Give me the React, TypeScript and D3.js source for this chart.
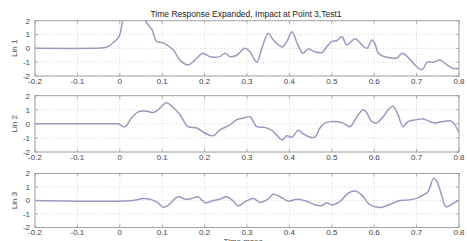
import React from "react";
import * as d3 from "d3";

const title = "Time Response Expanded, Impact at Point 3,Test1";
const xLabel = "Time msec";
const xTicks = [-0.2, -0.1, 0, 0.1, 0.2, 0.3, 0.4, 0.5, 0.6, 0.7, 0.8];
const yTicks = [2, 1, 0, -1, -2];
const channelNames = ["Lin 1", "Lin 2", "Lin 3"];

const lin1Time = [-0.2, -0.06, -0.047, -0.03, -0.016, -0.002, 0.007, 0.02, 0.035, 0.05, 0.06, 0.076, 0.087, 0.102, 0.126, 0.142, 0.161, 0.177, 0.196, 0.213, 0.236, 0.248, 0.26, 0.276, 0.295, 0.307, 0.323, 0.335, 0.35, 0.362, 0.383, 0.394, 0.406, 0.418, 0.432, 0.444, 0.46, 0.477, 0.489, 0.5, 0.512, 0.524, 0.535, 0.555, 0.571, 0.583, 0.595, 0.602, 0.61, 0.63, 0.653, 0.666, 0.68, 0.696, 0.713, 0.725, 0.74, 0.755, 0.772, 0.786, 0.8];
const lin1Value = [0, 0, 0.02, 0.1, 0.4, 0.85, 2.0, 3.2, 3.6, 3.0, 2.0, 1.35, 0.5, 0.4, -0.1, -0.85, -1.2, -0.85, -0.35, -0.6, -0.6, -0.35, -0.6, -0.5, 0, -0.25, -1.0, 0, 1.1, 0.6, 0.1, 0.5, 1.2, 0.4, -0.35, -0.05, -0.25, -0.3, 0.15, 0.5, 0.55, 0.85, 0.25, 0.7, 0.25, 0, 0.6, 0.3, -0.35, -0.65, -0.7, -0.35, -0.65, -1.2, -1.55, -1.0, -1.0, -0.85, -1.2, -1.45, -1.45];

const lin2Time = [-0.2, -0.02, -0.004, 0.012, 0.028, 0.043, 0.064, 0.079, 0.09, 0.11, 0.123, 0.142, 0.161, 0.182, 0.2, 0.22, 0.236, 0.26, 0.276, 0.29, 0.307, 0.323, 0.342, 0.358, 0.37, 0.383, 0.394, 0.406, 0.421, 0.432, 0.449, 0.46, 0.472, 0.484, 0.503, 0.526, 0.543, 0.559, 0.574, 0.582, 0.594, 0.606, 0.621, 0.633, 0.644, 0.656, 0.668, 0.68, 0.7, 0.715, 0.731, 0.743, 0.762, 0.783, 0.8];
const lin2Value = [0, 0, 0, -0.2, 0.43, 0.85, 0.9, 0.8, 1.0, 1.5, 1.25, 0.65, -0.2, -0.3, -0.65, -0.85, -0.43, -0.07, 0.3, 0.4, 0.5, -0.2, -0.25, -0.45, -0.8, -1.15, -0.85, -0.95, -0.45, -0.7, -0.95, -0.95, -0.3, 0.07, 0.17, 0.07, -0.2, 0.5, 1.0, 0.8, 0.17, 0.07, 0.5, 1.0, 1.25, 0.65, -0.2, 0.17, 0.3, 0.35, 0.17, 0.07, 0.17, 0.17, -0.65];

const lin3Time = [-0.2, 0.031, 0.055, 0.071, 0.087, 0.103, 0.115, 0.127, 0.138, 0.154, 0.17, 0.185, 0.201, 0.221, 0.236, 0.252, 0.268, 0.279, 0.295, 0.315, 0.331, 0.347, 0.362, 0.378, 0.397, 0.417, 0.441, 0.461, 0.476, 0.488, 0.5, 0.519, 0.538, 0.555, 0.571, 0.586, 0.602, 0.618, 0.637, 0.661, 0.68, 0.7, 0.715, 0.727, 0.74, 0.748, 0.76, 0.769, 0.783, 0.8];
const lin3Value = [0, 0, 0.15, 0.1, -0.1, -0.5, -0.33, 0.05, 0.28, 0.09, 0.15, 0.28, -0.16, 0, 0.1, 0.28, -0.05, -0.4, -0.1, 0.15, -0.14, 0.04, 0.46, 0.28, -0.05, 0.09, -0.05, -0.33, -0.38, -0.16, -0.33, -0.09, 0.53, 0.7, 0.4, -0.21, -0.46, -0.5, -0.28, 0, 0.04, 0.16, 0.4, 0.65, 1.64, 1.4, 0.28, -0.46, -0.28, 0.04];

const channels = [
  { name: channelNames[0], time: lin1Time, value: lin1Value, top: 20.7, bottom: 76 },
  { name: channelNames[1], time: lin2Time, value: lin2Value, top: 95.7, bottom: 152 },
  { name: channelNames[2], time: lin3Time, value: lin3Value, top: 173.5, bottom: 227.5 },
];

const W = 467;
const H = 241;
const left = 35;
const right = 459;
const font = "'Liberation Sans', Arial, sans-serif";

const Panel = ({ ch, idx }: any) => {
  const x = d3.scaleLinear().domain([-0.2, 0.8]).range([left, right]);
  const y = d3.scaleLinear().domain([-2, 2]).range([ch.bottom, ch.top]);
  const pts: [number, number][] = ch.time.map((t: number, i: number) => [t, ch.value[i]]);
  const line = d3
    .line<[number, number]>()
    .x((d) => x(d[0]))
    .y((d) => y(d[1]))
    .curve(d3.curveCatmullRom.alpha(0.5));
  const clipId = "clip" + idx;
  const mid = (ch.top + ch.bottom) / 2;
  return (
    <g>
      <defs>
        <clipPath id={clipId}>
          <rect x={left} y={ch.top} width={right - left} height={ch.bottom - ch.top} />
        </clipPath>
      </defs>
      {xTicks.map((t) => (
        <line key={"gx" + t} x1={x(t)} x2={x(t)} y1={ch.top} y2={ch.bottom}
          stroke="#c8c8c8" strokeWidth={0.7} strokeDasharray="1,2" />
      ))}
      {yTicks.map((v) => (
        <line key={"gy" + v} x1={left} x2={right} y1={y(v)} y2={y(v)}
          stroke="#c8c8c8" strokeWidth={0.7} strokeDasharray="1,2" />
      ))}
      <rect x={left} y={ch.top} width={right - left} height={ch.bottom - ch.top}
        fill="none" stroke="#9a9a9a" strokeWidth={0.9} />
      {xTicks.map((t) => (
        <g key={"tx" + t}>
          <line x1={x(t)} x2={x(t)} y1={ch.bottom} y2={ch.bottom - 3} stroke="#9a9a9a" strokeWidth={0.8} />
          <line x1={x(t)} x2={x(t)} y1={ch.top} y2={ch.top + 3} stroke="#9a9a9a" strokeWidth={0.8} />
          <text x={x(t)} y={ch.bottom + 7.5} textAnchor="middle" fontSize={8}
            fontFamily={font} fill="#444">{t}</text>
        </g>
      ))}
      {yTicks.map((v) => (
        <g key={"ty" + v}>
          <line x1={left} x2={left + 3} y1={y(v)} y2={y(v)} stroke="#9a9a9a" strokeWidth={0.8} />
          <line x1={right} x2={right - 3} y1={y(v)} y2={y(v)} stroke="#9a9a9a" strokeWidth={0.8} />
          <text x={30} y={y(v) + 2.8} textAnchor="end" fontSize={8}
            fontFamily={font} fill="#444">{v}</text>
        </g>
      ))}
      <text transform={`translate(17,${mid}) rotate(-90)`} textAnchor="middle"
        fontSize={8} fontFamily={font} fill="#444">{ch.name}</text>
      <path d={line(pts) || ""} fill="none" stroke="#9a9abf" strokeWidth={1.5}
        clipPath={`url(#${clipId})`} />
    </g>
  );
};

export default function App() {
  return (
    <svg width={W} height={H} style={{ position: "absolute", left: 0, top: 0, background: "#fff" }}>
      <rect width={W} height={H} fill="#fff" />
      <text x={246} y={17} textAnchor="middle" fontSize={8.5} fontFamily={font} fill="#222">{title}</text>
      {channels.map((ch, i) => (
        <Panel key={ch.name} ch={ch} idx={i} />
      ))}
      <text x={243} y={243.5} textAnchor="middle" fontSize={8} fontFamily={font} fill="#444">{xLabel}</text>
    </svg>
  );
}
